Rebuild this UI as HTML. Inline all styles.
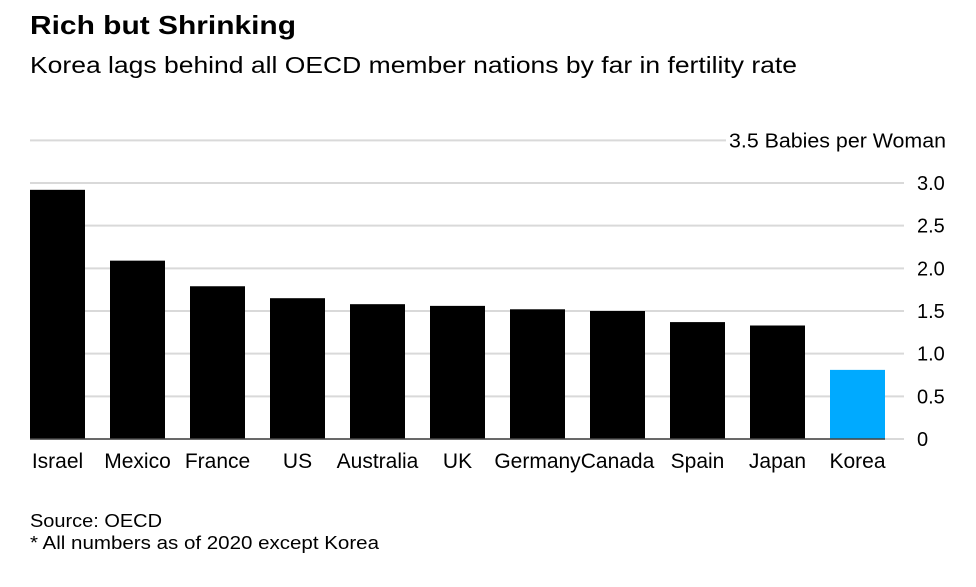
<!DOCTYPE html>
<html><head><meta charset="utf-8"><style>
body{margin:0;background:#fff;font-family:"Liberation Sans",sans-serif;}
</style></head><body>
<svg width="976" height="582" xmlns="http://www.w3.org/2000/svg" font-family="Liberation Sans, sans-serif">
<text x="30" y="34" font-size="26" font-weight="bold" fill="#000" textLength="266" lengthAdjust="spacingAndGlyphs">Rich but Shrinking</text>
<text x="30" y="73" font-size="23" fill="#000" textLength="767" lengthAdjust="spacingAndGlyphs">Korea lags behind all OECD member nations by far in fertility rate</text>
<g id="grid"></g>
<g id="bars"></g>
<g id="labels"></g>
<text x="30" y="527" font-size="18" fill="#000" textLength="132" lengthAdjust="spacingAndGlyphs">Source: OECD</text>
<text x="30" y="549" font-size="18" fill="#000" textLength="349" lengthAdjust="spacingAndGlyphs">* All numbers as of 2020 except Korea</text>
</svg>
<script>
const categories=["Israel","Mexico","France","US","Australia","UK","Germany","Canada","Spain","Japan","Korea"];
const values=[2.92,2.09,1.79,1.65,1.58,1.56,1.52,1.50,1.37,1.33,0.81];
const tickValues=[0,0.5,1,1.5,2,2.5,3,3.5];
const tickLabels=["0","0.5","1.0","1.5","2.0","2.5","3.0","3.5 Babies per Woman"];
const NS="http://www.w3.org/2000/svg";
const y0=439,pxPer=(439-183)/3;
const yS=v=>y0-v*pxPer;
const xS=i=>30+i*80;
const bw=55;
function mk(t,a,p){const e=document.createElementNS(NS,t);for(const k in a)e.setAttribute(k,a[k]);p.appendChild(e);return e;}
const g=document.getElementById('grid'),b=document.getElementById('bars'),l=document.getElementById('labels');
tickValues.forEach((v,i)=>{
  const last=i===tickValues.length-1;
  const ln=mk('line',{x1:30,x2:last?726:904,y1:yS(v),y2:yS(v),stroke:'#d9d9d9','stroke-width':2},g);
  
  
  const attrs={x:last?729:917,y:yS(v)+7,'font-size':20,fill:'#000'};
  if(last){attrs.textLength=217;attrs.lengthAdjust='spacingAndGlyphs';}
  const t=mk('text',attrs,g);
  t.textContent=tickLabels[i];
  
  
});
values.forEach((v,i)=>{
  const r=mk('rect',{x:xS(i),y:yS(v),width:bw,height:y0-yS(v),fill:categories[i]==='Korea'?'#00aaff':'#000'},b);
  
  
  const t=mk('text',{x:xS(i)+bw/2,y:468,'font-size':21,fill:'#000','text-anchor':'middle'},l);
  t.textContent=categories[i];
  
  
});
const base=mk('line',{x1:30,x2:885,y1:y0,y2:y0,stroke:'#444','stroke-width':1.5},b);


</script>
</body></html>
